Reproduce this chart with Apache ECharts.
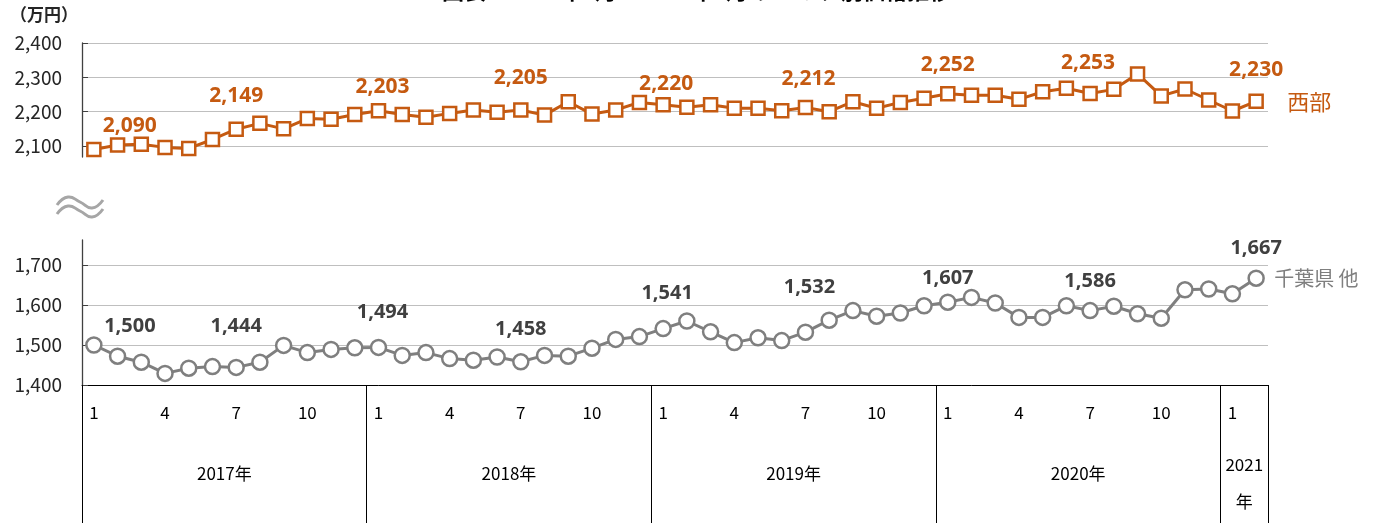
<!DOCTYPE html>
<html>
<head>
<meta charset="UTF-8">
<title>エリア別価格推移</title>
<script src="https://cdn.jsdelivr.net/npm/echarts@6/dist/echarts.min.js"></script>
<style>
html,body{margin:0;padding:0;background:#fff}
#main{width:1393px;height:523px}
</style>
</head>
<body>
<div id="main"></div>
<script>
// 年と、その年に含まれる月数
var years = ['2017年', '2018年', '2019年', '2020年', '2021年'];
var monthsPerYear = [12, 12, 12, 12, 2];

// 西部 (万円)
var seibu = [
  2090, 2103, 2105, 2096, 2093, 2119, 2149, 2166, 2150, 2180, 2178, 2192,
  2203, 2192, 2184, 2195, 2205, 2198, 2205, 2190, 2229, 2193, 2205, 2227,
  2220, 2213, 2220, 2210, 2210, 2203, 2212, 2200, 2229, 2210, 2227, 2239,
  2252, 2248, 2248, 2236, 2258, 2268, 2253, 2265, 2310, 2246, 2266, 2234,
  2202, 2230
];
// 千葉県 他 (万円)
var chiba = [
  1500, 1472, 1457, 1429, 1442, 1446, 1444, 1457, 1499, 1481, 1489, 1493,
  1494, 1474, 1481, 1466, 1462, 1470, 1458, 1474, 1472, 1492, 1514, 1521,
  1541, 1560, 1533, 1506, 1518, 1511, 1532, 1562, 1586, 1572, 1580, 1598,
  1607, 1619, 1605, 1569, 1569, 1598, 1586, 1597, 1578, 1567, 1638, 1640,
  1628, 1667
];

// 月のカテゴリを作る
var cats = [], monthOf = [], fullYear = [], yearCenters = {};
var pos = 0;
for (var y = 0; y < years.length; y++) {
  for (var m = 1; m <= monthsPerYear[y]; m++) {
    cats.push(years[y] + m + '月');
    monthOf.push(m);
    fullYear.push(monthsPerYear[y] === 12);
  }
  yearCenters[pos + monthsPerYear[y] / 2] = years[y];
  pos += monthsPerYear[y];
}

function comma(v) {
  return String(v).replace(/\B(?=(\d{3})+(?!\d))/g, ',');
}
// 1月・7月と最後の点にだけ値を出す
function pickLabel(p) {
  var i = p.dataIndex, mo = monthOf[i];
  if (((mo === 1 || mo === 7) && fullYear[i]) || i === cats.length - 1) return comma(p.value);
  return '';
}

// ラベル位置の微調整 (元の図で手で動かされている分)
var nudgeTop = {0: [36, 6], 6: [0, -4], 12: [4, 6], 18: [0, -3], 24: [3, 8], 30: [3, 1], 36: [0, 0], 42: [-2, -1], 49: [0, -2]};
var nudgeBottom = {0: [36, 13], 6: [0, -9], 12: [4, -3], 18: [0, -1], 24: [4, -4], 30: [4, -13], 36: [0, 8], 42: [0, 2], 49: [0, 2]};
function nudger(tbl) {
  return function (p) {
    var n = tbl[p.dataIndex];
    if (n) return { dx: n[0], dy: n[1] };
  };
}

var ORANGE = '#C55A11';
var GRAY = '#7F7F7F';
var font = "'Noto Sans CJK JP', 'Noto Sans', sans-serif";

var chart = echarts.init(document.getElementById('main'));
chart.setOption({
  animation: false,
  textStyle: { fontFamily: font },
  grid: [
    { left: 82, right: 125, top: 43, height: 114 },
    { left: 82, right: 125, top: 240, height: 145 }
  ],
  xAxis: [
    { type: 'category', gridIndex: 0, data: cats, boundaryGap: true, show: false },
    {
      type: 'category', gridIndex: 1, data: cats, boundaryGap: true,
      axisLine: { lineStyle: { color: '#000', width: 1 } },
      axisTick: {
        show: true, length: 138, lineStyle: { color: '#000', width: 1 },
        interval: function (i) { return monthOf[i] === 1; }
      },
      axisLabel: {
        color: '#000', fontSize: 17, margin: 19,
        interval: function (i) { return monthOf[i] % 3 === 1; },
        formatter: function (v, i) { return String(monthOf[i]); }
      },
      splitLine: { show: false }
    },
    {
      type: 'value', gridIndex: 1, position: 'bottom', offset: 90,
      min: 0, max: cats.length, interval: 1,
      axisLine: { show: false }, axisTick: { show: false }, splitLine: { show: false },
      axisLabel: {
        margin: 8, verticalAlign: 'middle', color: '#000', fontSize: 17,
        formatter: function (v) {
          var t = yearCenters[v];
          if (!t) return '';
          if (v === cats.length - 1) return '{z|' + t.slice(0, 4) + '}\n{z|' + t.slice(4) + '}';
          return '{y|' + t + '}';
        },
        rich: {
          y: { fontSize: 17, color: '#000', padding: [0, 0, 18, 0] },
          z: { fontSize: 17, color: '#000', lineHeight: 37 }
        }
      }
    }
  ],
  yAxis: [
    {
      type: 'value', gridIndex: 0, min: 2068, max: 2400, minInterval: 100, maxInterval: 100,
      axisLine: { show: true, lineStyle: { color: '#404040', width: 1.3 } },
      axisTick: { show: true, inside: true, length: 6, lineStyle: { color: '#404040' } },
      axisLabel: {
        color: '#262626', fontSize: 19, margin: 20, showMinLabel: false,
        formatter: function (v) { return v % 100 === 0 ? comma(v) : ''; }
      },
      splitLine: { showMinLine: false, lineStyle: { color: '#BFBFBF', width: 1.2 } }
    },
    {
      type: 'value', gridIndex: 1, min: 1400, max: 1762.5, minInterval: 100, maxInterval: 100,
      axisLine: { show: true, lineStyle: { color: '#404040', width: 1.3 } },
      axisTick: { show: true, inside: true, length: 6, lineStyle: { color: '#404040' } },
      axisLabel: {
        color: '#262626', fontSize: 19, margin: 20, showMaxLabel: false,
        formatter: function (v) { return v % 100 === 0 ? comma(v) : ''; }
      },
      splitLine: { showMaxLine: false, lineStyle: { color: '#BFBFBF', width: 1.2 } }
    }
  ],
  series: [
    {
      name: '西部', type: 'line', xAxisIndex: 0, yAxisIndex: 0, data: seibu,
      color: ORANGE,
      symbol: 'rect', symbolSize: 13, showAllSymbol: true,
      itemStyle: { color: '#fff', borderColor: ORANGE, borderWidth: 2.5 },
      lineStyle: { color: ORANGE, width: 3 },
      label: {
        show: true, position: 'top', distance: 11, formatter: pickLabel,
        color: ORANGE, fontWeight: 'bold', fontSize: 21, fontFamily: "'Noto Sans', sans-serif"
      },
      labelLayout: nudger(nudgeTop),
      endLabel: { show: true, formatter: '{a}', color: ORANGE, fontSize: 22, distance: 31 }
    },
    {
      name: '千葉県 他', type: 'line', xAxisIndex: 1, yAxisIndex: 1, data: chiba,
      color: GRAY,
      symbol: 'circle', symbolSize: 15, showAllSymbol: true,
      itemStyle: { color: '#fff', borderColor: GRAY, borderWidth: 2.5 },
      lineStyle: { color: GRAY, width: 3 },
      label: {
        show: true, position: 'top', distance: 13, formatter: pickLabel,
        color: '#404040', fontWeight: 'bold', fontSize: 20, fontFamily: "'Noto Sans', sans-serif"
      },
      labelLayout: nudger(nudgeBottom),
      endLabel: { show: true, formatter: '{a}', color: GRAY, fontSize: 20, distance: 18 }
    }
  ],
  graphic: [
    {
      type: 'text', left: 'center', top: -20,
      style: { text: '図表　2017年1月～2021年2月の エリア別価格推移', fontSize: 22, fontWeight: 'bold', fill: '#000', fontFamily: font }
    },
    {
      type: 'text', left: 10, top: 6,
      style: { text: '（万円）', fontSize: 17, fontWeight: 'bold', fill: '#262626', fontFamily: font }
    },
    {
      type: 'polyline', silent: true,
      shape: { points: [[57, 205], [68, 197], [80, 202], [92, 208], [103, 200]], smooth: 0.5 },
      style: { fill: 'none', stroke: '#A6A6A6', lineWidth: 3 }
    },
    {
      type: 'polyline', silent: true,
      shape: { points: [[57, 214], [68, 206], [80, 211], [92, 217], [103, 209]], smooth: 0.5 },
      style: { fill: 'none', stroke: '#A6A6A6', lineWidth: 3 }
    }
  ]
});
</script>
</body>
</html>
